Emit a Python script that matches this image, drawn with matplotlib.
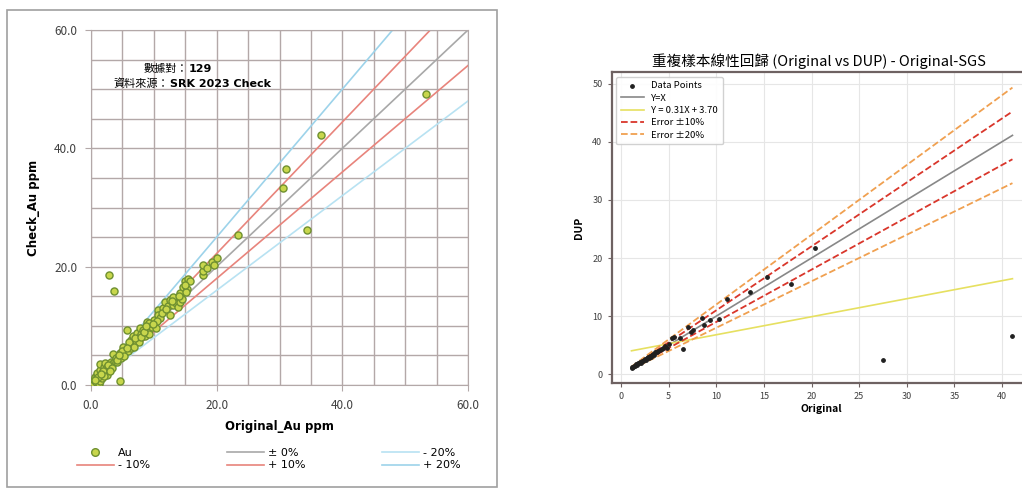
import numpy as np
import matplotlib.pyplot as plt
from matplotlib.lines import Line2D

plt.rcParams['font.family'] = ['Noto Sans CJK TC', 'DejaVu Sans']

# left chart: SRK 2023 check pairs (Original_Au vs Check_Au, ppm)
orig_au = [0.3, 0.5, 0.6, 0.8, 0.9, 1.0, 1.2, 1.4, 1.4, 1.5, 1.7, 1.8, 2.0, 2.2, 2.3,
           2.5, 2.6, 2.8, 3.0, 3.2, 3.5, 3.5, 3.8, 4.0, 4.2, 4.4, 4.6, 4.8, 5.1, 5.1,
           5.4, 5.6, 5.7, 5.9, 6.1, 6.3, 6.3, 6.5, 6.7, 6.9, 7.1, 7.3, 7.5, 7.6, 7.8,
           8.0, 8.3, 8.6, 8.9, 9.0, 9.2, 9.5, 9.7, 10.0, 10.3, 10.7, 10.7, 11.0, 11.5, 11.8,
           12.2, 12.6, 12.6, 13.0, 13.4, 13.5, 13.9, 14.2, 14.2, 14.5, 14.7, 15.0, 15.3, 15.5, 15.8,
           17.9, 17.9, 17.9, 18.5, 19.2, 20.0, 19.6,
           1.1, 1.9, 2.7, 3.3, 4.1, 4.9, 5.3, 6.0, 6.8, 7.0, 7.9, 8.4, 9.3, 10.5,
           11.3, 12.0, 13.1, 14.0, 15.1, 2.1, 3.0, 0.7, 1.6, 4.5, 5.8, 8.8, 9.9, 12.9, 14.9,
           2.9, 3.7, 4.6, 23.4, 30.5, 31.0, 34.4, 36.6, 53.3]
check_au = [0.3, 0.9, 1.4, 0.5, 1.7, 2.1, 0.2, 2.5, 0.6, 3.5, 1.2, 2.0, 3.0, 3.7, 2.2,
            3.1, 1.7, 2.6, 3.3, 3.9, 3.7, 5.2, 4.1, 4.6, 3.9, 4.9, 5.4, 4.6, 5.2, 6.5,
            5.6, 6.0, 9.3, 5.7, 6.6, 6.2, 7.6, 7.1, 8.2, 7.0, 7.4, 8.8, 8.0, 7.2, 9.6,
            8.6, 9.3, 8.3, 10.7, 9.2, 8.7, 10.1, 9.8, 11.0, 9.6, 12.7, 11.8, 11.4, 13.0, 14.1,
            13.3, 14.4, 11.8, 13.6, 14.7, 13.8, 13.2, 15.5, 14.1, 14.6, 16.6, 17.5, 16.2, 18.0, 17.6,
            18.6, 19.2, 20.3, 19.7, 20.8, 21.4, 20.3,
            1.3, 2.4, 3.4, 2.9, 4.3, 5.8, 4.9, 7.3, 6.5, 7.9, 8.1, 8.9, 10.4, 10.9,
            12.2, 12.9, 14.9, 15.0, 15.8, 1.5, 2.4, 0.8, 1.9, 5.1, 6.3, 9.9, 10.3, 14.2, 16.9,
            18.6, 15.9, 0.7, 25.4, 33.3, 36.5, 26.2, 42.3, 49.2]

# reference lines: label, slope, colour
ref_labels = ['- 10%', '± 0%', '+ 10%', '- 20%', '+ 20%']
ref_slopes = [0.9, 1.0, 1 / 0.9, 0.8, 1 / 0.8]
ref_colors = ['#e8847c', '#a8a8a8', '#e8847c', '#b8e2f2', '#9dd3ea']

# right chart: duplicates (Original vs DUP)
dup_orig = [1.1, 1.2, 1.3, 1.4, 1.5, 1.6, 1.7, 1.8, 1.9, 2.0, 2.1, 2.2, 2.3, 2.4, 2.5,
            2.6, 2.7, 2.8, 2.9, 3.0, 3.1, 3.2, 3.4, 3.5, 3.6, 3.8, 3.9, 4.1, 4.3, 4.4,
            4.6, 4.8, 5.0, 5.3, 5.6, 6.2, 6.5, 7.0, 7.3, 7.6, 8.5, 8.7, 9.3, 10.3, 11.1,
            13.5, 15.3, 17.8, 20.4, 27.5, 41.1]
dup_val = [1.0, 1.3, 1.2, 1.5, 1.4, 1.7, 1.6, 1.9, 2.0, 2.1, 2.0, 2.3, 2.2, 2.5, 2.6,
           2.5, 2.8, 2.9, 2.8, 3.1, 3.0, 3.3, 3.5, 3.4, 3.8, 3.9, 4.0, 4.2, 4.4, 4.5,
           4.8, 4.6, 5.2, 6.3, 6.4, 6.3, 4.4, 8.2, 7.3, 7.7, 9.6, 8.5, 9.4, 9.5, 13.0,
           14.1, 16.8, 15.5, 21.7, 2.5, 6.6]
fit_slope = 0.31
fit_icept = 3.70

grid_col = '#b3a8a8'

fig = plt.figure(figsize=(10.22, 4.92), dpi=100)

# frame round the left chart
fig.patches.append(plt.Rectangle((7 / 1022, 1 - 487 / 492), 490 / 1022, 477 / 492,
                                 transform=fig.transFigure, fill=False,
                                 edgecolor='#a0a0a0', lw=1.2))

ax = fig.add_axes([91 / 1022, 1 - 385 / 492, 377 / 1022, 355 / 492])
xx = np.array([0, 60])
handles = {}
for lab, s, c in zip(ref_labels, ref_slopes, ref_colors):
    ln, = ax.plot(xx, s * xx, color=c, lw=1.2, zorder=2)
    handles[lab] = ln
sc = ax.scatter(orig_au, check_au, s=26, c='#c8d64c', edgecolors='#6f9030',
                linewidths=1.0, zorder=3)
ax.set_xlim(0, 60)
ax.set_ylim(0, 60)
ax.set_xticks(np.arange(0, 61, 20))
ax.set_yticks(np.arange(0, 61, 20))
ax.set_xticks(np.arange(0, 61, 5), minor=True)
ax.set_yticks(np.arange(0, 61, 5), minor=True)
ax.set_xticklabels(['0.0', '20.0', '40.0', '60.0'])
ax.set_yticklabels(['0.0', '20.0', '40.0', '60.0'])
ax.grid(True, which='both', color=grid_col, lw=1.0)
ax.set_axisbelow(True)
for sp in ax.spines.values():
    sp.set_color(grid_col)
ax.tick_params(which='major', length=4, color=grid_col, labelsize=8.5,
               labelcolor='#404040', pad=6)
ax.tick_params(which='minor', length=0)
ax.set_xlabel('Original_Au ppm', fontsize=8.5, fontweight='bold', labelpad=6,
              family='DejaVu Sans')
ax.set_ylabel('Check_Au ppm', fontsize=8.5, fontweight='bold', labelpad=10,
              family='DejaVu Sans')

# annotation
fig.text(188 / 1022, 1 - 69 / 492, '數據對：', ha='right', va='center', fontsize=8)
fig.text(189 / 1022, 1 - 69 / 492, '129', ha='left', va='center', fontsize=8,
         fontweight='bold', family='DejaVu Sans')
fig.text(169 / 1022, 1 - 84 / 492, '資料來源：', ha='right', va='center', fontsize=8)
fig.text(170 / 1022, 1 - 84 / 492, 'SRK 2023 Check', ha='left', va='center',
         fontsize=8, fontweight='bold', family='DejaVu Sans')

au_handle = Line2D([], [], ls='none', marker='o', ms=5.5, mfc='#c8d64c',
                   mec='#6f9030', mew=1.0)
leg_h = [au_handle, handles['- 10%'], handles['± 0%'], handles['+ 10%'],
         handles['- 20%'], handles['+ 20%']]
leg_l = ['Au', '- 10%', '± 0%', '+ 10%', '- 20%', '+ 20%']
fig.legend(leg_h, leg_l, ncol=3, loc='center left',
           bbox_to_anchor=(67 / 1022, 1 - 459 / 492), frameon=False,
           handlelength=3.3, columnspacing=6.9, handletextpad=0.4,
           labelspacing=0.25, prop={'family': 'DejaVu Sans', 'size': 8})

# right chart
ax2 = fig.add_axes([611.5 / 1022, 1 - 383 / 492, 420 / 1022, 311 / 492])
lx = np.array([min(dup_orig), max(dup_orig)])
ax2.scatter(dup_orig, dup_val, s=6, c='#202020', marker='o', label='Data Points',
            zorder=4)
ax2.plot(lx, lx, color='#888888', lw=1.2, label='Y=X')
ax2.plot(lx, fit_slope * lx + fit_icept, color='#e6e060', lw=1.2,
         label=f'Y = {fit_slope:.2f}X + {fit_icept:.2f}')
ax2.plot(lx, 1.1 * lx, color='#d9362b', ls='--', lw=1.3, label='Error ±10%')
ax2.plot(lx, 0.9 * lx, color='#d9362b', ls='--', lw=1.3)
ax2.plot(lx, 1.2 * lx, color='#f0a050', ls='--', lw=1.3, label='Error ±20%')
ax2.plot(lx, 0.8 * lx, color='#f0a050', ls='--', lw=1.3)
ax2.set_xlim(-1.0, 43.1)
ax2.set_ylim(-1.5, 52.0)
ax2.set_xticks(np.arange(0, 41, 5))
ax2.set_yticks(np.arange(0, 51, 10))
ax2.grid(True, color='#e6e6e6', lw=0.8)
ax2.set_axisbelow(True)
for sp in ax2.spines.values():
    sp.set_color('#6e6262')
    sp.set_linewidth(1.6)
ax2.spines['right'].set_visible(False)
ax2.tick_params(labelsize=6.5, length=3, color='#6e6262', labelcolor='#404040')
ax2.set_xlabel('Original', fontsize=7.5, fontweight='bold', labelpad=2)
ax2.set_ylabel('DUP', fontsize=7.5, fontweight='bold', labelpad=6)
ax2.set_title('重複樣本線性回歸 (Original vs DUP) - Original-SGS', fontsize=10.5,
              pad=4, x=0.495)
ax2.legend(loc='upper left', fontsize=6.8, framealpha=0.9, handlelength=2.4,
           borderpad=0.5, labelspacing=0.35)

plt.savefig('out.png', dpi=100)
